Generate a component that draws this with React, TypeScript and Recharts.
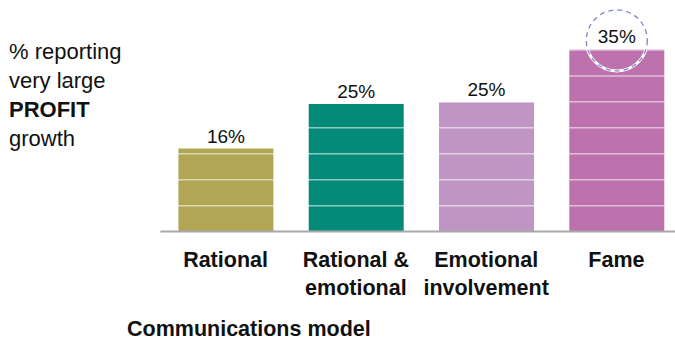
import { BarChart, Bar, XAxis, YAxis, ReferenceLine, LabelList, Cell } from "recharts";

const FONT = '"Liberation Sans", Arial, sans-serif';

// Communications model categories ("\n" = line break in tick label)
const categories = ["Rational", "Rational &\nemotional", "Emotional\ninvolvement", "Fame"];
// % reporting very large profit growth
const profitShare = [16, 24.6, 24.9, 35.1];
const barColors = ["#b1a655", "#038a78", "#bf95c4", "#bd72ad"];
// white stripe positions drawn across the bars
const stripeTicks = [5, 10, 15, 20, 25, 30, 35];
const yLabelLines = ["% reporting", "very large", "PROFIT", "growth"];
const xTitle = "Communications model";
const highlightIndex = 3;

const data = categories.map((name, i) => ({ name, value: profitShare[i] }));

function CategoryTick({ x, y, payload }: any) {
  const lines = String(payload.value).split("\n");
  return (
    <text x={x} y={y} textAnchor="middle" fontFamily={FONT} fontSize={21.5} fontWeight={700} fill="#111">
      {lines.map((l, i) => (
        <tspan key={i} x={x} dy={i === 0 ? 35 : 28}>
          {l}
        </tspan>
      ))}
    </text>
  );
}

function ValueLabel(props: any) {
  const { x, y, width, value, index } = props;
  const cx = Number(x) + Number(width) / 2;
  return (
    <g>
      {index === highlightIndex && (
        <>
          <circle cx={cx} cy={y - 9} r={30.5} fill="none" stroke="#fff" strokeWidth={3} />
          <circle cx={cx} cy={y - 9} r={30.5} fill="none" stroke="#7d88c3" strokeWidth={1.3} strokeDasharray="5 4" />
        </>
      )}
      <text x={cx} y={y - 6} textAnchor="middle" fontFamily={FONT} fontSize={19} fill="#111">
        {Math.round(value)}%
      </text>
    </g>
  );
}

export default function App() {
  return (
    <div style={{ position: "fixed", left: 0, top: 0, width: 675, height: 340, background: "#fff" }}>
      <BarChart width={675} height={340} data={data} margin={{ top: 24, right: -6.6, bottom: 78.4, left: 160.4 }}>
        <XAxis
          dataKey="name"
          axisLine={{ stroke: "#aaaaaa", strokeWidth: 2 }}
          tickLine={false}
          tickSize={0}
          tickMargin={0}
          interval={0}
          tick={<CategoryTick />}
        />
        <YAxis hide domain={[0, 40]} />
        <Bar dataKey="value" barSize={95} isAnimationActive={false}>
          {data.map((_, i) => (
            <Cell key={i} fill={barColors[i]} />
          ))}
          <LabelList dataKey="value" content={<ValueLabel />} />
        </Bar>
        {stripeTicks.map((t) => (
          <ReferenceLine key={t} y={t} stroke="#ffffff" strokeOpacity={0.55} strokeWidth={1.5} />
        ))}
      </BarChart>
      <svg width={675} height={340} style={{ position: "absolute", left: 0, top: 0, pointerEvents: "none" }}>
        {yLabelLines.map((line, i) => (
          <text
            key={line}
            x={9}
            y={59 + i * 29}
            fontFamily={FONT}
            fontSize={22}
            fontWeight={line === "PROFIT" ? 700 : 400}
            fill="#111"
          >
            {line}
          </text>
        ))}
        <text x={127} y={336} fontFamily={FONT} fontSize={21.5} fontWeight={700} fill="#111">
          {xTitle}
        </text>
      </svg>
    </div>
  );
}
